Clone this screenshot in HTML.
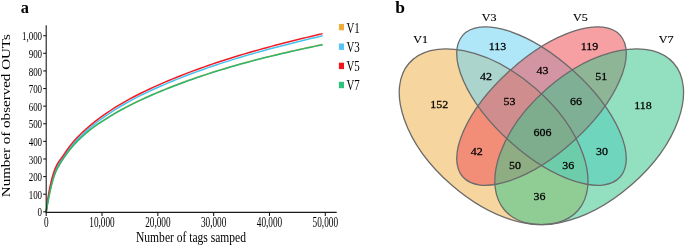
<!DOCTYPE html>
<html><head><meta charset="utf-8"><style>
html,body{margin:0;padding:0;background:#fff;}
svg{display:block;}
svg{will-change:transform;}
text{font-family:"Liberation Serif",serif;}
</style></head><body>
<svg width="685" height="246" viewBox="0 0 685 246">
<text transform="translate(20.63,12.7) scale(0.93,1)" font-size="17.6" font-weight="bold">a</text>
<text x="395.3" y="12.8" font-size="17.5" font-weight="bold">b</text>
<g fill="none" stroke-width="1.5" stroke-linejoin="round">
<path d="M46.20,211.80 L46.68,208.93 L47.15,206.15 L47.62,203.49 L48.10,200.92 L48.58,198.43 L49.05,196.03 L49.52,193.70 L50.00,191.47 L50.50,189.21 L51.00,187.05 L51.50,184.99 L52.00,183.03 L52.50,181.17 L53.00,179.41 L53.50,177.76 L54.00,176.22 L54.50,174.79 L55.00,173.45 L55.50,172.21 L56.00,171.05 L56.50,169.96 L57.00,168.94 L57.50,167.97 L58.00,167.04 L58.50,166.16 L59.00,165.30 L59.50,164.45 L60.00,163.62 L61.00,162.00 L62.00,160.42 L63.00,158.89 L64.00,157.40 L65.00,155.95 L66.00,154.54 L67.00,153.18 L68.00,151.85 L69.00,150.56 L70.00,149.30 L71.00,148.08 L72.00,146.90 L73.00,145.74 L74.00,144.62 L75.00,143.52 L76.00,142.45 L77.00,141.41 L78.00,140.39 L79.00,139.40 L80.00,138.43 L81.00,137.48 L82.00,136.55 L83.00,135.64 L84.00,134.75 L85.00,133.88 L86.00,133.02 L87.00,132.18 L88.00,131.36 L89.00,130.55 L90.00,129.76 L93.94,126.78 L97.88,123.99 L101.83,121.35 L105.77,118.82 L109.71,116.38 L113.65,114.03 L117.60,111.76 L121.54,109.57 L125.48,107.45 L129.42,105.40 L133.37,103.42 L137.31,101.50 L141.25,99.63 L145.19,97.82 L149.14,96.05 L153.08,94.33 L157.02,92.65 L160.96,91.01 L164.91,89.39 L168.85,87.81 L172.79,86.27 L176.73,84.75 L180.67,83.26 L184.62,81.80 L188.56,80.37 L192.50,78.97 L196.44,77.60 L200.39,76.25 L204.33,74.93 L208.27,73.64 L212.21,72.37 L216.16,71.13 L220.10,69.91 L224.04,68.71 L227.98,67.53 L231.93,66.38 L235.87,65.25 L239.81,64.14 L243.75,63.05 L247.69,61.98 L251.64,60.93 L255.58,59.89 L259.52,58.88 L263.46,57.88 L267.41,56.90 L271.35,55.93 L275.29,54.98 L279.23,54.04 L283.18,53.12 L287.12,52.21 L291.06,51.31 L295.00,50.43 L298.95,49.55 L302.89,48.69 L306.83,47.84 L310.77,46.99 L314.72,46.16 L318.66,45.33 L322.60,44.52" stroke="#F0A83C"/>
<path d="M46.20,211.80 L46.68,208.40 L47.15,205.25 L47.62,202.25 L48.10,199.42 L48.58,196.54 L49.05,193.81 L49.52,191.26 L50.00,188.88 L50.50,186.54 L51.00,184.36 L51.50,182.31 L52.00,180.40 L52.50,178.61 L53.00,176.92 L53.50,175.35 L54.00,173.87 L54.50,172.49 L55.00,171.20 L55.50,169.99 L56.00,168.87 L56.50,167.82 L57.00,166.85 L57.50,165.95 L58.00,165.10 L58.50,164.31 L59.00,163.56 L59.50,162.84 L60.00,162.10 L61.00,160.60 L62.00,159.12 L63.00,157.64 L64.00,156.16 L65.00,154.70 L66.00,153.26 L67.00,151.85 L68.00,150.48 L69.00,149.16 L70.00,147.87 L71.00,146.63 L72.00,145.43 L73.00,144.26 L74.00,143.12 L75.00,142.02 L76.00,140.94 L77.00,139.89 L78.00,138.87 L79.00,137.87 L80.00,136.88 L81.00,135.92 L82.00,134.96 L83.00,134.01 L84.00,133.07 L85.00,132.16 L86.00,131.25 L87.00,130.36 L88.00,129.49 L89.00,128.62 L90.00,127.77 L93.94,124.55 L97.88,121.49 L101.83,118.59 L105.77,115.81 L109.71,113.15 L113.65,110.59 L117.60,108.12 L121.54,105.76 L125.48,103.48 L129.42,101.29 L133.37,99.17 L137.31,97.12 L141.25,95.14 L145.19,93.22 L149.14,91.36 L153.08,89.54 L157.02,87.77 L160.96,86.03 L164.91,84.33 L168.85,82.67 L172.79,81.03 L176.73,79.43 L180.67,77.85 L184.62,76.31 L188.56,74.79 L192.50,73.31 L196.44,71.85 L200.39,70.42 L204.33,69.01 L208.27,67.64 L212.21,66.28 L216.16,64.95 L220.10,63.65 L224.04,62.37 L227.98,61.11 L231.93,59.87 L235.87,58.65 L239.81,57.46 L243.75,56.28 L247.69,55.12 L251.64,53.98 L255.58,52.86 L259.52,51.75 L263.46,50.66 L267.41,49.59 L271.35,48.53 L275.29,47.48 L279.23,46.45 L283.18,45.43 L287.12,44.42 L291.06,43.43 L295.00,42.44 L298.95,41.47 L302.89,40.50 L306.83,39.54 L310.77,38.59 L314.72,37.65 L318.66,36.71 L322.60,35.78" stroke="#45C2F0"/>
<path d="M46.20,211.80 L46.68,207.56 L47.15,203.90 L47.62,200.50 L48.10,197.33 L48.58,194.39 L49.05,191.66 L49.52,189.11 L50.00,186.73 L50.50,184.39 L51.00,182.21 L51.50,180.16 L52.00,178.25 L52.50,176.46 L53.00,174.77 L53.50,173.20 L54.00,171.72 L54.50,170.34 L55.00,169.05 L55.50,167.84 L56.00,166.72 L56.50,165.67 L57.00,164.70 L57.50,163.80 L58.00,162.95 L58.50,162.16 L59.00,161.41 L59.50,160.69 L60.00,159.99 L61.00,158.64 L62.00,157.28 L63.00,155.87 L64.00,154.41 L65.00,152.93 L66.00,151.45 L67.00,149.99 L68.00,148.57 L69.00,147.20 L70.00,145.88 L71.00,144.61 L72.00,143.39 L73.00,142.20 L74.00,141.05 L75.00,139.94 L76.00,138.85 L77.00,137.80 L78.00,136.76 L79.00,135.75 L80.00,134.75 L81.00,133.77 L82.00,132.81 L83.00,131.86 L84.00,130.92 L85.00,130.01 L86.00,129.10 L87.00,128.21 L88.00,127.34 L89.00,126.47 L90.00,125.62 L93.94,122.40 L97.88,119.34 L101.83,116.44 L105.77,113.66 L109.71,111.00 L113.65,108.44 L117.60,105.97 L121.54,103.61 L125.48,101.33 L129.42,99.14 L133.37,97.02 L137.31,94.97 L141.25,92.99 L145.19,91.07 L149.14,89.21 L153.08,87.39 L157.02,85.62 L160.96,83.88 L164.91,82.18 L168.85,80.52 L172.79,78.88 L176.73,77.28 L180.67,75.70 L184.62,74.16 L188.56,72.64 L192.50,71.16 L196.44,69.70 L200.39,68.27 L204.33,66.86 L208.27,65.49 L212.21,64.13 L216.16,62.80 L220.10,61.50 L224.04,60.22 L227.98,58.96 L231.93,57.72 L235.87,56.50 L239.81,55.31 L243.75,54.13 L247.69,52.97 L251.64,51.83 L255.58,50.71 L259.52,49.60 L263.46,48.51 L267.41,47.44 L271.35,46.38 L275.29,45.33 L279.23,44.30 L283.18,43.28 L287.12,42.27 L291.06,41.28 L295.00,40.29 L298.95,39.32 L302.89,38.35 L306.83,37.39 L310.77,36.44 L314.72,35.50 L318.66,34.56 L322.60,33.63" stroke="#EE1C25"/>
<path d="M46.20,211.80 L46.68,209.08 L47.15,206.35 L47.62,203.69 L48.10,201.12 L48.58,198.63 L49.05,196.23 L49.52,193.90 L50.00,191.67 L50.50,189.41 L51.00,187.25 L51.50,185.19 L52.00,183.23 L52.50,181.37 L53.00,179.61 L53.50,177.96 L54.00,176.42 L54.50,174.99 L55.00,173.65 L55.50,172.41 L56.00,171.25 L56.50,170.16 L57.00,169.14 L57.50,168.17 L58.00,167.24 L58.50,166.36 L59.00,165.50 L59.50,164.65 L60.00,163.82 L61.00,162.20 L62.00,160.62 L63.00,159.09 L64.00,157.60 L65.00,156.15 L66.00,154.74 L67.00,153.38 L68.00,152.05 L69.00,150.76 L70.00,149.50 L71.00,148.28 L72.00,147.10 L73.00,145.94 L74.00,144.82 L75.00,143.72 L76.00,142.65 L77.00,141.61 L78.00,140.59 L79.00,139.60 L80.00,138.63 L81.00,137.68 L82.00,136.75 L83.00,135.84 L84.00,134.95 L85.00,134.08 L86.00,133.22 L87.00,132.38 L88.00,131.56 L89.00,130.75 L90.00,129.96 L93.94,126.98 L97.88,124.19 L101.83,121.55 L105.77,119.02 L109.71,116.58 L113.65,114.23 L117.60,111.96 L121.54,109.77 L125.48,107.65 L129.42,105.60 L133.37,103.62 L137.31,101.70 L141.25,99.83 L145.19,98.02 L149.14,96.25 L153.08,94.53 L157.02,92.85 L160.96,91.21 L164.91,89.59 L168.85,88.01 L172.79,86.47 L176.73,84.95 L180.67,83.46 L184.62,82.00 L188.56,80.57 L192.50,79.17 L196.44,77.80 L200.39,76.45 L204.33,75.13 L208.27,73.84 L212.21,72.57 L216.16,71.33 L220.10,70.11 L224.04,68.91 L227.98,67.73 L231.93,66.58 L235.87,65.45 L239.81,64.34 L243.75,63.25 L247.69,62.18 L251.64,61.13 L255.58,60.09 L259.52,59.08 L263.46,58.08 L267.41,57.10 L271.35,56.13 L275.29,55.18 L279.23,54.24 L283.18,53.32 L287.12,52.41 L291.06,51.51 L295.00,50.63 L298.95,49.75 L302.89,48.89 L306.83,48.04 L310.77,47.19 L314.72,46.36 L318.66,45.53 L322.60,44.72" stroke="#28B872"/>
</g>
<g stroke="#1a1a1a" stroke-width="1.1" fill="none">
<line x1="46.2" y1="25.2" x2="46.2" y2="212.9"/>
<line x1="45.7" y1="212.4" x2="336.7" y2="212.4"/>
<line x1="43.2" y1="211.80" x2="46.2" y2="211.80"/><line x1="43.2" y1="194.19" x2="46.2" y2="194.19"/><line x1="43.2" y1="176.58" x2="46.2" y2="176.58"/><line x1="43.2" y1="158.97" x2="46.2" y2="158.97"/><line x1="43.2" y1="141.36" x2="46.2" y2="141.36"/><line x1="43.2" y1="123.75" x2="46.2" y2="123.75"/><line x1="43.2" y1="106.14" x2="46.2" y2="106.14"/><line x1="43.2" y1="88.53" x2="46.2" y2="88.53"/><line x1="43.2" y1="70.92" x2="46.2" y2="70.92"/><line x1="43.2" y1="53.31" x2="46.2" y2="53.31"/><line x1="43.2" y1="35.70" x2="46.2" y2="35.70"/><line x1="46.20" y1="212.4" x2="46.20" y2="216"/><line x1="102.02" y1="212.4" x2="102.02" y2="216"/><line x1="157.84" y1="212.4" x2="157.84" y2="216"/><line x1="213.66" y1="212.4" x2="213.66" y2="216"/><line x1="269.48" y1="212.4" x2="269.48" y2="216"/><line x1="325.30" y1="212.4" x2="325.30" y2="216"/>
</g>
<g font-size="13.2" fill="#000" text-anchor="end"><text x="0" y="0" transform="translate(42.1,216.40) scale(0.68,1)">0</text><text x="0" y="0" transform="translate(42.1,198.79) scale(0.68,1)">100</text><text x="0" y="0" transform="translate(42.1,181.18) scale(0.68,1)">200</text><text x="0" y="0" transform="translate(42.1,163.57) scale(0.68,1)">300</text><text x="0" y="0" transform="translate(42.1,145.96) scale(0.68,1)">400</text><text x="0" y="0" transform="translate(42.1,128.35) scale(0.68,1)">500</text><text x="0" y="0" transform="translate(42.1,110.74) scale(0.68,1)">600</text><text x="0" y="0" transform="translate(42.1,93.13) scale(0.68,1)">700</text><text x="0" y="0" transform="translate(42.1,75.52) scale(0.68,1)">800</text><text x="0" y="0" transform="translate(42.1,57.91) scale(0.68,1)">900</text><text x="0" y="0" transform="translate(42.1,40.30) scale(0.68,1)">1,000</text></g>
<g font-size="13.7" fill="#000" text-anchor="middle"><text x="0" y="0" transform="translate(46.20,226.85) scale(0.675,1)">0</text><text x="0" y="0" transform="translate(102.02,226.85) scale(0.675,1)">10,000</text><text x="0" y="0" transform="translate(157.84,226.85) scale(0.675,1)">20,000</text><text x="0" y="0" transform="translate(213.66,226.85) scale(0.675,1)">30,000</text><text x="0" y="0" transform="translate(269.48,226.85) scale(0.675,1)">40,000</text><text x="0" y="0" transform="translate(325.30,226.85) scale(0.675,1)">50,000</text></g>
<text transform="translate(191,241.7) scale(0.85,1)" text-anchor="middle" font-size="13.6" fill="#000">Number of tags samped</text>
<text transform="translate(9.9,115.7) rotate(-90) scale(1.158,1)" text-anchor="middle" font-size="13" fill="#000">Number of observed OUTs</text>
<g font-size="14.2" fill="#000">
<rect x="338.9" y="23.9" width="5.1" height="6.4" fill="#EFAC3A"/>
<rect x="338.9" y="43.5" width="5.1" height="6.4" fill="#55C6F2"/>
<rect x="338.9" y="62.7" width="5.1" height="6.4" fill="#F5141C"/>
<rect x="338.9" y="81.8" width="5.1" height="6.4" fill="#2DC37B"/>
<text transform="translate(346.4,32.8) scale(0.77,1)">V1</text>
<text transform="translate(346.4,51.9) scale(0.77,1)">V3</text>
<text transform="translate(346.4,71.1) scale(0.77,1)">V5</text>
<text transform="translate(346.4,90.3) scale(0.77,1)">V7</text>
</g>
<g id="venn">
<g opacity="1">
<ellipse cx="0" cy="0" rx="112" ry="64" transform="translate(493.6,136.75) rotate(41)" fill="#EFB34F" fill-opacity="0.55"/>
<ellipse cx="0" cy="0" rx="105.9" ry="47.5" transform="translate(541.5,106.06) rotate(42.1)" fill="#6DD3F4" fill-opacity="0.55"/>
<ellipse cx="0" cy="0" rx="105.9" ry="47.5" transform="translate(541.5,106.06) rotate(-42.1)" fill="#EF525A" fill-opacity="0.55"/>
<ellipse cx="0" cy="0" rx="112" ry="64" transform="translate(589.2,136.75) rotate(-41)" fill="#3BC78D" fill-opacity="0.55"/>
</g>
<g fill="none" stroke="#6b6b6b" stroke-width="1.3">
<ellipse cx="0" cy="0" rx="112" ry="64" transform="translate(493.6,136.75) rotate(41)"/>
<ellipse cx="0" cy="0" rx="105.9" ry="47.5" transform="translate(541.5,106.06) rotate(42.1)"/>
<ellipse cx="0" cy="0" rx="105.9" ry="47.5" transform="translate(541.5,106.06) rotate(-42.1)"/>
<ellipse cx="0" cy="0" rx="112" ry="64" transform="translate(589.2,136.75) rotate(-41)"/>
</g>
<g font-size="11.3" fill="#000" stroke="#000" stroke-width="0.15" text-anchor="middle">
<text transform="translate(420.6,43.45) scale(1.07,1)">V1</text>
<text transform="translate(489.2,20.85) scale(1.07,1)">V3</text>
<text transform="translate(580.4,20.85) scale(1.07,1)">V5</text>
<text transform="translate(666.1,43.45) scale(1.07,1)">V7</text>
</g>
<g font-size="11.1" fill="#000" stroke="#000" stroke-width="0.25" text-anchor="middle"><text transform="translate(439.2,108.1) scale(1.08,1)">152</text><text transform="translate(497.5,50.3) scale(1.08,1)">113</text><text transform="translate(589.5,50.3) scale(1.08,1)">119</text><text transform="translate(642.9,108.8) scale(1.08,1)">118</text><text transform="translate(486,80) scale(1.08,1)">42</text><text transform="translate(542.5,73.8) scale(1.08,1)">43</text><text transform="translate(601.2,80) scale(1.08,1)">51</text><text transform="translate(509.4,105) scale(1.08,1)">53</text><text transform="translate(576.1,105) scale(1.08,1)">66</text><text transform="translate(542.6,135.9) scale(1.08,1)">606</text><text transform="translate(476.7,155) scale(1.08,1)">42</text><text transform="translate(602,154.8) scale(1.08,1)">30</text><text transform="translate(515,168.8) scale(1.08,1)">50</text><text transform="translate(568.3,169) scale(1.08,1)">36</text><text transform="translate(539.5,199.8) scale(1.08,1)">36</text></g>
</g>
</svg>
</body></html>
